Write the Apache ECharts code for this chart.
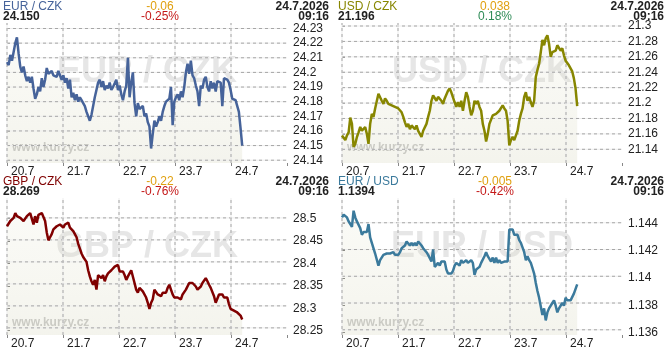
<!DOCTYPE html>
<html><head><meta charset="utf-8">
<script src="https://cdn.jsdelivr.net/npm/echarts@6/dist/echarts.min.js"></script>
<style>html,body{margin:0;padding:0;background:#fff}#c{width:670px;height:350px}</style>
</head><body><div id="c"></div><script>
// ---------- DATA ----------
const dayLabels = ['20.7', '21.7', '22.7', '23.7', '24.7'];
const lastDay = 4.2; // last quote, in days from 20.7 00:00
const pairNames = ['EUR / CZK', 'USD / CZK', 'GBP / CZK', 'EUR / USD'];
const lastValues = ['24.150', '21.196', '28.269', '1.1394'];
const changes = ['-0.06', '0.038', '-0.22', '-0.005'];
const pctChanges = ['-0.25%', '0.18%', '-0.76%', '-0.42%'];
const quoteDate = '24.7.2026';
const quoteTime = '09:16';

const eurczkTicks = [24.14, 24.15, 24.16, 24.17, 24.18, 24.19, 24.2, 24.21, 24.22, 24.23];
const usdczkTicks = [21.14, 21.16, 21.18, 21.2, 21.22, 21.24, 21.26, 21.28, 21.3];
const gbpczkTicks = [28.25, 28.3, 28.35, 28.4, 28.45, 28.5];
const eurusdTicks = [1.136, 1.138, 1.14, 1.142, 1.144];
const tickSteps = [0.01, 0.02, 0.05, 0.002];

const eurczk = [
24.207,24.205,24.212,24.208,24.214,24.220,24.224,24.213,24.204,24.200,
24.204,24.198,24.194,24.197,24.193,24.197,24.189,24.182,24.185,24.190,
24.187,24.196,24.190,24.195,24.203,24.199,24.198,24.201,24.198,24.199,
24.197,24.201,24.202,24.195,24.198,24.193,24.196,24.189,24.195,24.183,
24.186,24.181,24.185,24.180,24.183,24.181,24.179,24.177,24.173,24.170,
24.167,24.171,24.177,24.183,24.188,24.193,24.195,24.190,24.194,24.188,
24.191,24.189,24.193,24.188,24.190,24.191,24.195,24.188,24.191,24.185,
24.181,24.187,24.191,24.210,24.183,24.193,24.200,24.179,24.170,24.179,
24.175,24.174,24.177,24.170,24.172,24.166,24.163,24.148,24.158,24.167,
24.163,24.166,24.170,24.167,24.173,24.177,24.180,24.179,24.182,24.190,
24.164,24.180,24.183,24.185,24.181,24.187,24.183,24.190,24.200,24.206,
24.199,24.208,24.198,24.196,24.191,24.187,24.177,24.191,24.189,24.195,
24.197,24.190,24.187,24.194,24.189,24.193,24.187,24.194,24.195,24.193,
24.177,24.196,24.197,24.195,24.193,24.188,24.182,24.183,24.181,24.181,
24.173,24.162,24.150];

const usdczk = [
21.158,21.156,21.152,21.158,21.162,21.181,21.173,21.143,21.147,21.156,
21.162,21.169,21.164,21.162,21.169,21.160,21.147,21.173,21.186,21.182,
21.193,21.195,21.212,21.214,21.203,21.199,21.206,21.203,21.199,21.201,
21.197,21.199,21.195,21.197,21.193,21.195,21.188,21.182,21.175,21.169,
21.173,21.166,21.171,21.173,21.166,21.171,21.164,21.162,21.156,21.164,
21.166,21.173,21.182,21.190,21.203,21.210,21.208,21.203,21.208,21.206,
21.203,21.199,21.206,21.208,21.216,21.219,21.214,21.216,21.201,21.195,
21.201,21.195,21.203,21.190,21.203,21.214,21.208,21.195,21.184,21.190,
21.203,21.199,21.203,21.195,21.190,21.173,21.164,21.150,21.160,21.173,
21.175,21.184,21.184,21.186,21.188,21.190,21.190,21.197,21.193,21.190,
21.177,21.145,21.152,21.156,21.152,21.158,21.164,21.177,21.186,21.193,
21.208,21.214,21.203,21.208,21.201,21.195,21.203,21.234,21.243,21.251,
21.266,21.282,21.275,21.284,21.288,21.277,21.260,21.266,21.264,21.268,
21.275,21.273,21.268,21.271,21.262,21.255,21.253,21.249,21.251,21.241,
21.232,21.219,21.196];

const gbpczk = [
28.481,28.485,28.493,28.496,28.500,28.511,28.504,28.507,28.500,28.496,
28.493,28.489,28.504,28.507,28.511,28.507,28.485,28.504,28.489,28.507,
28.504,28.511,28.507,28.493,28.467,28.449,28.456,28.463,28.474,28.478,
28.481,28.481,28.485,28.481,28.478,28.485,28.481,28.489,28.478,28.481,
28.470,28.463,28.456,28.441,28.430,28.419,28.411,28.407,28.400,28.381,
28.367,28.356,28.348,28.359,28.337,28.370,28.374,28.363,28.370,28.356,
28.367,28.374,28.378,28.381,28.385,28.389,28.393,28.393,28.378,28.374,
28.378,28.370,28.359,28.367,28.374,28.381,28.378,28.352,28.337,28.330,
28.341,28.337,28.333,28.330,28.319,28.307,28.293,28.307,28.315,28.337,
28.333,28.326,28.330,28.322,28.330,28.333,28.330,28.341,28.348,28.337,
28.326,28.319,28.315,28.319,28.322,28.315,28.326,28.322,28.337,28.341,
28.352,28.356,28.352,28.356,28.344,28.337,28.341,28.344,28.352,28.356,
28.363,28.356,28.348,28.341,28.337,28.322,28.307,28.311,28.326,28.330,
28.326,28.319,28.322,28.319,28.304,28.293,28.296,28.289,28.293,28.285,
28.289,28.278,28.269];

const eurusd = [
1.1444,1.1446,1.1445,1.1444,1.1441,1.1439,1.1437,1.1449,1.1444,1.1441,
1.1442,1.1436,1.1431,1.1433,1.1434,1.1433,1.1439,1.1429,1.1425,1.1424,
1.1417,1.1416,1.1408,1.1412,1.1411,1.1416,1.1415,1.1417,1.1416,1.1417,
1.1416,1.1418,1.1416,1.1417,1.1416,1.1418,1.1421,1.1422,1.1423,1.1426,
1.1425,1.1423,1.1425,1.1423,1.1425,1.1423,1.1426,1.1427,1.1423,1.1421,
1.1420,1.1418,1.1416,1.1417,1.1411,1.1420,1.1407,1.1406,1.1410,1.1408,
1.1411,1.1410,1.1411,1.1405,1.1402,1.1401,1.1402,1.1404,1.1408,1.1410,
1.1411,1.1408,1.1412,1.1410,1.1411,1.1412,1.1410,1.1411,1.1412,1.1410,
1.1401,1.1405,1.1406,1.1407,1.1410,1.1411,1.1415,1.1418,1.1415,1.1414,
1.1411,1.1414,1.1410,1.1414,1.1410,1.1412,1.1410,1.1411,1.1411,1.1412,
1.1411,1.1435,1.1434,1.1435,1.1431,1.1430,1.1431,1.1427,1.1425,1.1424,
1.1418,1.1412,1.1415,1.1412,1.1410,1.1406,1.1402,1.1395,1.1389,1.1384,
1.1383,1.1371,1.1376,1.1367,1.1373,1.1376,1.1377,1.1380,1.1382,1.1378,
1.1373,1.1376,1.1377,1.1380,1.1378,1.1384,1.1382,1.1383,1.1382,1.1382,
1.1387,1.1388,1.1394];

// ---------- LAYOUT / STYLE ----------
const seriesData = [eurczk, usdczk, gbpczk, eurusd];
const tickSets = [eurczkTicks, usdczkTicks, gbpczkTicks, eurusdTicks];
const yRanges = [[24.13809, 24.23376], [21.1222, 21.3039], [28.2338, 28.5452], [1.13561, 1.14585]];
const lineColors = ['#46639a', '#878600', '#800000', '#3b7a9c'];
const offsets = [[0, 0], [335, 0], [0, 175], [335, 175]];
const FONT = '"Liberation Sans", Arial, sans-serif';
const PLOT_TOP = 23, PLOT_H = 140, PLOT_LEFT = 7, PLOT_W = 280, X_MAX = 5;

const grids = [], xAxes = [], yAxes = [], series = [], graphics = [];
const gridLine = (ga, data, color, type) => ({
  type: 'line', xAxisIndex: ga, yAxisIndex: ga, data, animation: false,
  symbol: 'none', showSymbol: false, color,
  lineStyle: { color, type, width: 1 }
});
offsets.forEach(([ox, oy], i) => {
  const [ymin, ymax] = yRanges[i];
  const ticks = tickSets[i];
  const pxOf = v => PLOT_TOP + (ymax - v) / (ymax - ymin) * PLOT_H;
  grids.push({ left: ox + PLOT_LEFT, top: oy + PLOT_TOP, width: PLOT_W, height: PLOT_H });
  const tTop = pxOf(ticks[ticks.length - 1]), tBot = pxOf(ticks[0]);
  grids.push({ left: ox + PLOT_LEFT, top: oy + tTop, width: PLOT_W, height: tBot - tTop });
  const ga = 2 * i, gb = 2 * i + 1;
  xAxes.push({
    type: 'value', gridIndex: ga, min: 0, max: X_MAX, interval: 1,
    axisLine: { show: false },
    axisTick: { show: true, length: 3, lineStyle: { color: '#888' } },
    axisLabel: { formatter: v => dayLabels[v] ?? '', align: 'left', margin: 3, padding: [0, 0, 0, 4],
                 color: '#222', fontSize: 12, fontFamily: FONT },
    splitLine: { show: false }
  });
  xAxes.push({ type: 'value', gridIndex: gb, min: 0, max: X_MAX, show: false });
  yAxes.push({ type: 'value', gridIndex: ga, min: ymin, max: ymax, show: false });
  yAxes.push({
    type: 'value', gridIndex: gb, position: 'right', min: ticks[0], max: ticks[ticks.length - 1],
    interval: tickSteps[i],
    axisLine: { show: false },
    axisTick: { show: true, length: 3, lineStyle: { color: '#777' } },
    axisLabel: { formatter: v => String(+v.toFixed(4)), margin: 6, color: '#222', fontSize: 12, fontFamily: FONT },
    splitLine: { show: false }
  });
  // grid lines as line series through the library's own axes: faint solid base + dashed overlay
  const hLines = ticks.map(v => [[0, v], [X_MAX, v]]);
  const vLines = dayLabels.map((d, k) => [[k, ymin], [k, ymax]]);
  hLines.concat(vLines).forEach(seg => {
    series.push(gridLine(ga, seg, '#ededed', 'solid'));
    series.push(gridLine(ga, seg, '#a6a6a6', [3, 3]));
  });
  const vals = seriesData[i];
  const step = lastDay / (vals.length - 1);
  series.push({
    type: 'line', xAxisIndex: ga, yAxisIndex: ga, showSymbol: false, symbol: 'none', z: 3,
    data: vals.map((v, k) => [k * step, v]),
    lineStyle: { color: lineColors[i], width: 2.5 },
    areaStyle: { color: new echarts.graphic.LinearGradient(0, 0, 0, 1, [
      { offset: 0, color: 'rgba(225,225,200,0.22)' }, { offset: 1, color: 'rgba(215,215,190,0.40)' }]) },
    animation: false
  });
  const t = (text, x, y, font, fill, align) => ({
    type: 'text', x, y,
    style: { text, font, fill, align, verticalAlign: 'middle' }
  });
  graphics.push(t(pairNames[i], ox + 147, oy + 72, 'bold 36px ' + FONT, '#e6e6e6', 'center'));
  graphics.push(t('www.kurzy.cz', ox + 12, oy + 148, 'bold 12px ' + FONT, '#c6c6c6', 'left'));
  graphics.push(t(pairNames[i], ox + 3, oy + 6.5, '12px ' + FONT, lineColors[i], 'left'));
  graphics.push(t(lastValues[i], ox + 3, oy + 16.5, 'bold 12px ' + FONT, '#222', 'left'));
  graphics.push(t(changes[i], ox + 160, oy + 6.5, '12px ' + FONT, '#e0a010', 'center'));
  graphics.push(t(pctChanges[i], ox + 160, oy + 16.5, '12px ' + FONT,
    pctChanges[i].startsWith('-') ? '#c41818' : '#2e8b57', 'center'));
  graphics.push(t(quoteDate, ox + 329, oy + 6.5, 'bold 12px ' + FONT, '#222', 'right'));
  graphics.push(t(quoteTime, ox + 329, oy + 16.5, 'bold 12px ' + FONT, '#222', 'right'));
});

const chart = echarts.init(document.getElementById('c'), null, { renderer: 'canvas' });
chart.setOption({
  animation: false, backgroundColor: '#fff',
  grid: grids, xAxis: xAxes, yAxis: yAxes, series: series, graphic: graphics
});
</script></body></html>
